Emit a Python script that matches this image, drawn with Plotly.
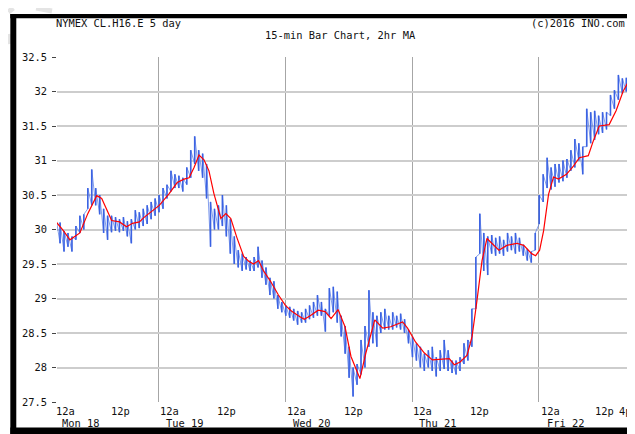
import numpy as np
import plotly.graph_objects as go

# ---- data (hours from Mon 00:00 on the chart's session axis) ----
bar_start = 4.55          # first 45-min sample
bar_step = 0.75
bar_lo = [29.98, 29.80, 29.68, 29.75, 29.68, 29.85, 29.95, 30.00, 30.30, 30.35,
          30.35, 30.22, 29.95, 29.85, 29.96, 29.98, 29.96, 29.98, 29.90, 29.80,
          30.00, 30.02, 30.05, 30.08, 30.15, 30.20, 30.25, 30.30, 30.45, 30.55,
          30.60, 30.60, 30.55, 30.65, 30.75, 30.95, 30.85, 30.75, 30.45, 29.75,
          30.00, 30.00, 30.05, 29.90, 29.65, 29.50, 29.45, 29.40, 29.42, 29.40,
          29.40, 29.45, 29.30, 29.20, 29.05, 29.00, 28.85, 28.80, 28.75, 28.72,
          28.68, 28.62, 28.65, 28.65, 28.70, 28.72, 28.75, 28.75, 28.52, 28.75,
          28.80, 28.65, 28.45, 28.20, 27.85, 27.58, 27.75, 27.90, 28.00, 28.30,
          28.35, 28.30, 28.50, 28.55, 28.55, 28.55, 28.58, 28.55, 28.50, 28.35,
          28.15, 28.10, 28.00, 27.95, 28.00, 27.95, 27.87, 27.95, 27.98, 27.95,
          27.92, 27.90, 27.95, 28.05, 28.10, 28.30, 28.85, 29.65, 29.40, 29.34,
          29.65, 29.62, 29.65, 29.62, 29.68, 29.70, 29.65, 29.68, 29.62, 29.55,
          29.52, 29.70, 30.08, 30.40, 30.60, 30.58, 30.62, 30.68, 30.70, 30.75,
          30.85, 30.90, 31.00, 30.80, 31.20, 31.25, 31.30, 31.38, 31.40, 31.45,
          31.65, 31.75, 31.88, 31.97, 32.00]
bar_hi = [30.16, 30.10, 29.98, 29.95, 29.90, 30.05, 30.20, 30.22, 30.60, 30.87,
          30.60, 30.50, 30.30, 30.20, 30.20, 30.18, 30.15, 30.18, 30.12, 30.15,
          30.28, 30.25, 30.30, 30.35, 30.40, 30.45, 30.50, 30.60, 30.65, 30.85,
          30.80, 30.78, 30.75, 30.90, 31.15, 31.35, 31.15, 31.10, 30.95, 30.40,
          30.30, 30.35, 30.50, 30.35, 30.15, 29.90, 29.70, 29.65, 29.60, 29.55,
          29.60, 29.75, 29.55, 29.45, 29.30, 29.25, 29.05, 28.95, 28.90, 28.88,
          28.85, 28.82, 28.80, 28.85, 28.90, 28.95, 29.05, 28.95, 28.85, 29.15,
          29.17, 29.10, 28.75, 28.60, 28.30, 28.00, 28.05, 28.40, 28.60, 29.12,
          28.80, 28.75, 28.80, 28.85, 28.75, 28.80, 28.75, 28.78, 28.70, 28.55,
          28.45, 28.35, 28.30, 28.20, 28.25, 28.30, 28.15, 28.25, 28.40, 28.25,
          28.10, 28.10, 28.15, 28.35, 28.40, 28.85, 29.60, 30.23, 29.95, 29.90,
          29.92, 29.88, 29.90, 29.85, 29.95, 29.90, 29.95, 29.88, 29.78, 29.72,
          29.68, 29.95, 30.50, 30.80, 31.04, 30.90, 30.95, 30.95, 31.00, 31.02,
          31.15, 31.31, 31.25, 31.20, 31.75, 31.70, 31.72, 31.65, 31.70, 31.70,
          31.95, 32.02, 32.24, 32.19, 32.20]

ma_time = [4.34, 5.85, 7.17, 9.05, 10.55, 12.24, 13.19, 14.13, 15.07, 16.57,
           17.89, 19.02, 20.33, 21.27, 24.09, 25.97, 27.48, 28.80, 29.74, 30.68,
           31.62, 32.56, 33.50, 34.44, 35.76, 36.70, 37.64, 38.76, 40.08, 41.02,
           41.96, 42.90, 43.84, 45.16, 46.66, 47.98, 49.11, 50.43, 51.55, 52.68,
           54.19, 55.50, 56.63, 57.95, 59.27, 60.40, 62.09, 63.22, 64.91, 66.41,
           67.92, 70.18, 71.12, 72.62, 74.31, 75.82, 77.32, 79.02, 79.96, 81.08,
           82.40, 83.34, 84.28, 85.22, 86.16, 87.10, 88.42, 89.93, 91.81, 93.12,
           94.62, 95.38, 96.13, 96.88, 97.82, 98.76, 99.70, 101.21, 102.53, 103.66,
           105.35, 106.28, 107.42, 109.30, 110.61, 111.93, 112.87]
ma_value = [30.13, 29.99, 29.85, 29.95, 30.23, 30.49, 30.45, 30.28, 30.13, 30.11,
            30.04, 30.09, 30.11, 30.18, 30.35, 30.52, 30.68, 30.73, 30.75, 30.90,
            31.08, 31.01, 30.85, 30.52, 30.16, 30.23, 30.16, 29.89, 29.61, 29.54,
            29.50, 29.55, 29.40, 29.25, 29.05, 28.90, 28.82, 28.75, 28.70, 28.75,
            28.83, 28.81, 28.71, 28.84, 28.59, 28.16, 27.84, 28.21, 28.69, 28.57,
            28.59, 28.66, 28.57, 28.37, 28.21, 28.11, 28.12, 28.13, 28.04, 28.08,
            28.18, 28.45, 28.98, 29.55, 29.87, 29.80, 29.70, 29.77, 29.80, 29.77,
            29.65, 29.62, 29.70, 29.98, 30.51, 30.76, 30.73, 30.80, 30.92, 31.04,
            31.07, 31.28, 31.50, 31.52, 31.72, 32.00, 32.13]

day_bounds = [24, 48, 72, 96]
hour_tick_pos = [4.34, 14.69, 24.09, 34.81, 48.17, 58.87, 72.04, 82.76, 96.13, 106.47, 110.95]
hour_tick_text = ["12a", "12p", "12a", "12p", "12a", "12p", "12a", "12p", "12a", "12p", "4p"]
day_label_pos = [4.34, 24.09, 48.17, 72.04, 96.13]
day_label_text = ["Mon 18", "Tue 19", "Wed 20", "Thu 21", "Fri 22"]

title_left = "NYMEX CL.H16.E 5 day"
title_mid = "15-min Bar Chart, 2hr MA"
title_right = "(c)2016 INO.com"

# ---- layout geometry (reference pixel coords, page body has 8px margin) ----
OFF = 8
W, H = 635 - OFF, 434 - OFF
PL, PR, PT, PB = 57, 631, 57, 402          # plot box in reference pixels
ML, MR, MT, MB = PL - OFF, (W + OFF) - PR, PT - OFF, (H + OFF) - PB
PW, PH = PR - PL, PB - PT
X_RANGE = [4.72, 112.68]
Y_RANGE = [27.5, 32.5]
PX_PER_UNIT = PW / (X_RANGE[1] - X_RANGE[0])

def pxx(p):
    return (p - PL) / PW

def pxy(p):
    return (PB - p) / PH

FONT = "DejaVu Sans Mono"
FS = 10.4

bar_time = bar_start + bar_step * np.arange(len(bar_lo))
vx, vy = [], []
zx, zy = [], []
for t, lo, hi in zip(bar_time, bar_lo, bar_hi):
    vx += [t, t, None]
    vy += [lo, hi, None]
    zx += [t, t]
    zy += [lo, hi]

fig = go.Figure()
# connecting trace between consecutive bars (high of one to low of the next)
fig.add_trace(go.Scatter(x=zx, y=zy, mode="lines",
                         line=dict(color="rgba(90,125,230,0.75)", width=1.0),
                         hoverinfo="skip", showlegend=False))
# the bars themselves (low to high)
fig.add_trace(go.Scatter(x=vx, y=vy, mode="lines", connectgaps=False,
                         line=dict(color="rgba(55,95,225,0.95)", width=1.6),
                         hoverinfo="skip", showlegend=False))
fig.add_trace(go.Scatter(x=ma_time, y=ma_value, mode="lines",
                         line=dict(color="rgb(255,0,0)", width=1.2),
                         hoverinfo="skip", showlegend=False))
fig.add_trace(go.Scatter(x=[ma_time[5]], y=[ma_value[5]], mode="none", yaxis="y2",
                         hoverinfo="skip", showlegend=False))

def axis_ann(pos, txt, ypix, extra_shift=0):
    clamped = max(pos, X_RANGE[0])
    shift = (pos - clamped) * PX_PER_UNIT + extra_shift
    return dict(x=clamped, xref="x", xshift=shift, y=pxy(ypix), yref="paper", text=txt,
                xanchor="left", yanchor="middle", showarrow=False, borderpad=0,
                font=dict(family=FONT, size=FS, color="#111"))

annotations = []
for pos, txt in zip(hour_tick_pos, hour_tick_text):
    annotations.append(axis_ann(pos, txt, 411))
for pos, txt in zip(day_label_pos, day_label_text):
    annotations.append(axis_ann(pos, txt, 423, 6))
annotations.append(dict(x=pxx(55), xref="paper", y=pxy(23.5), yref="paper", text=title_left,
                        xanchor="left", yanchor="middle", showarrow=False, borderpad=0,
                        font=dict(family=FONT, size=FS, color="#111")))
annotations.append(dict(x=pxx(342.5), xref="paper", y=pxy(35), yref="paper", text=title_mid,
                        xanchor="center", yanchor="middle", showarrow=False, borderpad=0,
                        font=dict(family=FONT, size=FS, color="#111")))
annotations.append(dict(x=pxx(630), xref="paper", y=pxy(23.5), yref="paper", text=title_right,
                        xanchor="right", yanchor="middle", showarrow=False, borderpad=0,
                        font=dict(family=FONT, size=FS, color="#111")))

shapes = [
    dict(type="rect", xref="paper", yref="paper", x0=pxx(10), x1=pxx(16), y0=pxy(445), y1=pxy(14),
         fillcolor="black", line=dict(width=0), layer="above"),
    dict(type="rect", xref="paper", yref="paper", x0=pxx(10), x1=pxx(645), y0=pxy(18.3), y1=pxy(14),
         fillcolor="black", line=dict(width=0), layer="above"),
    dict(type="rect", xref="paper", yref="paper", x0=pxx(10), x1=pxx(645), y0=pxy(445), y1=pxy(427.5),
         fillcolor="black", line=dict(width=0), layer="above"),
]
for (a, b, c, d) in [(8, 12, 13, 8), (36, 8, 52, 11), (8, 34, 9, 44)]:
    shapes.append(dict(type="line", xref="paper", yref="paper", x0=pxx(a), y0=pxy(b),
                       x1=pxx(c), y1=pxy(d), line=dict(color="#e4e4e4", width=5), layer="below"))

fig.update_layout(
    width=W, height=H,
    margin=dict(l=ML, r=MR, t=MT, b=MB, pad=0),
    paper_bgcolor="white", plot_bgcolor="white",
    showlegend=False,
    font=dict(family=FONT, size=FS, color="#111"),
    xaxis=dict(range=X_RANGE, tickmode="array", tickvals=day_bounds, showticklabels=False,
               ticks="", showgrid=True, gridcolor="#a6a6a6", gridwidth=1.2,
               zeroline=False, showline=False, fixedrange=True),
    yaxis=dict(range=Y_RANGE, tick0=27.5, dtick=0.5, showgrid=True, gridcolor="#cdcdcd",
               gridwidth=1.6, zeroline=False, showline=False, ticks="outside", ticklen=4,
               tickcolor="#444", tickwidth=1, ticklabelstandoff=3,
               tickfont=dict(family=FONT, size=FS, color="#111")),
    yaxis2=dict(range=Y_RANGE, overlaying="y", side="right", tick0=27.5, dtick=0.5,
                showgrid=False, zeroline=False, showline=True, linecolor="#c9a45c",
                linewidth=1.6, ticks="outside", ticklen=4, tickcolor="#333",
                showticklabels=False),
    annotations=annotations,
    shapes=shapes,
)

fig.write_html("out.html")
